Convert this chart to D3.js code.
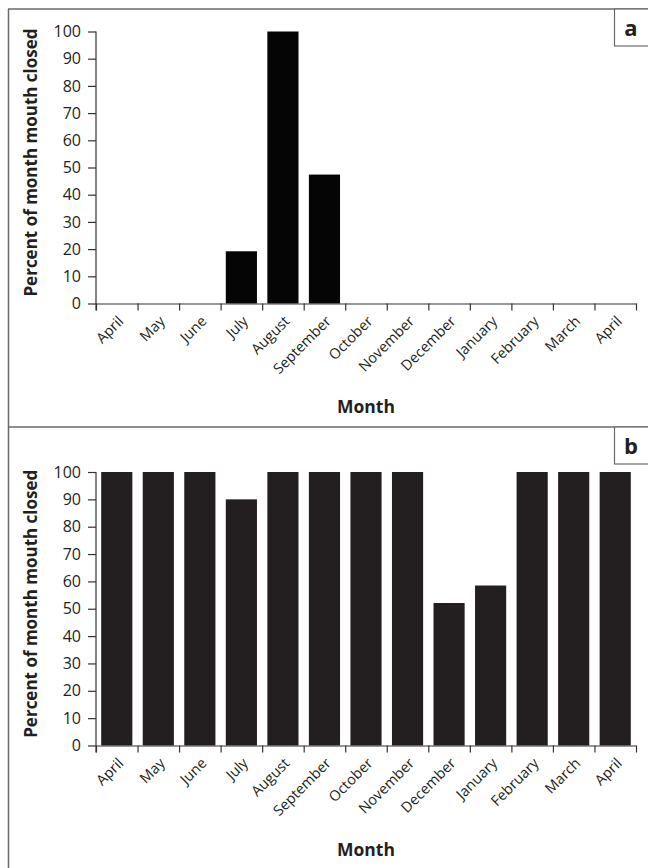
<!DOCTYPE html>
<html>
<head>
<meta charset="utf-8">
<script src="https://cdn.jsdelivr.net/npm/d3@7"></script>
<style>
  html, body { margin: 0; padding: 0; background: #fff; }
  svg { display: block; font-family: "Open Sans", sans-serif; }
</style>
</head>
<body>
<svg id="chart" width="648" height="868"></svg>
<script>
/** Month categories (13 months, April to April). */
const months = ["April", "May", "June", "July", "August", "September", "October",
  "November", "December", "January", "February", "March", "April"];
/** Panel a: percent of month mouth closed. */
const valuesA = [0, 0, 0, 19.2, 100, 47.4, 0, 0, 0, 0, 0, 0, 0];
/** Panel b: percent of month mouth closed. */
const valuesB = [100, 100, 100, 90, 100, 100, 100, 100, 52.1, 58.5, 100, 100, 100];
/** Y tick values. */
const yTicks = [0, 10, 20, 30, 40, 50, 60, 70, 80, 90, 100];

const svg = d3.select("#chart");
const frameColor = "#6a6a6a";
const textColor = "#231f20";

/** Outer frame: left edge, top edge, divider between panels. */
svg.append("line").attr("x1", 8.5).attr("x2", 8.5).attr("y1", 9).attr("y2", 868)
  .attr("stroke", frameColor).attr("stroke-width", 1.5);
svg.append("line").attr("x1", 8).attr("x2", 648).attr("y1", 9).attr("y2", 9)
  .attr("stroke", frameColor).attr("stroke-width", 1.5);
svg.append("line").attr("x1", 8).attr("x2", 648).attr("y1", 427).attr("y2", 427)
  .attr("stroke", frameColor).attr("stroke-width", 1.5);

function drawPanel(values, opts) {
  /** Band scale for bars (index keys because April repeats). */
  const x = d3.scaleBand()
    .domain(d3.range(months.length))
    .range([96, 636])
    .paddingInner(0.25)
    .paddingOuter(0.125);
  /** Linear scale for the tick marks at band boundaries. */
  const xb = d3.scaleLinear().domain([0, months.length]).range([96, 636]);
  const y = d3.scaleLinear().domain([0, 100]).range([opts.y0, opts.y100]);

  const g = svg.append("g");

  g.append("g")
    .selectAll("rect")
    .data(values)
    .join("rect")
    .attr("x", (d, i) => x(i))
    .attr("width", x.bandwidth())
    .attr("y", (d) => y(d))
    .attr("height", (d) => y(0) - y(d))
    .attr("fill", opts.fill);

  /** Y axis. */
  const ya = g.append("g")
    .attr("transform", `translate(96,0)`)
    .call(d3.axisLeft(y).tickValues(yTicks).tickSize(8).tickPadding(7).tickSizeOuter(0));
  ya.select(".domain").attr("stroke", "#333").attr("stroke-width", 1.2)
    .attr("d", `M0,${opts.y100}V${opts.y0 + 7}`);
  ya.selectAll(".tick line").attr("stroke", "#333").attr("stroke-width", 1.2);
  ya.selectAll(".tick text").attr("font-size", 16).attr("fill", textColor)
    .attr("font-family", "'Open Sans', sans-serif");

  /** X axis with ticks at band boundaries. */
  const xa = g.append("g")
    .attr("transform", `translate(0,${opts.y0})`)
    .call(d3.axisBottom(xb).tickValues(d3.range(months.length + 1))
      .tickFormat("").tickSize(7).tickSizeOuter(0));
  xa.select(".domain").attr("stroke", "#333").attr("stroke-width", 1.2);
  xa.selectAll(".tick line").attr("stroke", "#333").attr("stroke-width", 1.2);

  /** Rotated month labels. */
  g.append("g")
    .selectAll("text")
    .data(months)
    .join("text")
    .attr("transform", (d, i) =>
      `translate(${x(i) + x.bandwidth() / 2 + 4},${opts.y0 + 15}) rotate(-45)`)
    .attr("text-anchor", "end")
    .attr("dy", "0.35em")
    .attr("font-size", 14.5)
    .attr("fill", textColor)
    .text((d) => d);

  /** Y axis title. */
  g.append("text")
    .attr("transform", `translate(31,${(opts.y0 + opts.y100) / 2 - 5}) rotate(-90)`)
    .attr("text-anchor", "middle")
    .attr("dy", "0.35em")
    .attr("font-size", 17)
    .attr("font-weight", "bold")
    .attr("fill", textColor)
    .text("Percent of month mouth closed");

  /** X axis title. */
  g.append("text")
    .attr("x", 366)
    .attr("y", opts.titleY)
    .attr("text-anchor", "middle")
    .attr("dy", "0.35em")
    .attr("font-size", 17.5)
    .attr("font-weight", "bold")
    .attr("fill", textColor)
    .text("Month");

  /** Panel letter box. */
  g.append("rect")
    .attr("x", 614.5).attr("y", opts.boxY)
    .attr("width", 40).attr("height", 37)
    .attr("fill", "#fff").attr("stroke", frameColor).attr("stroke-width", 1.2);
  g.append("text")
    .attr("x", 631)
    .attr("y", opts.boxY + 19)
    .attr("text-anchor", "middle")
    .attr("dy", "0.35em")
    .attr("font-size", 22)
    .attr("font-weight", "bold")
    .attr("fill", textColor)
    .text(opts.letter);
}

drawPanel(valuesA, { y0: 303.5, y100: 31.5, fill: "#050505", titleY: 407, boxY: 9, letter: "a" });
drawPanel(valuesB, { y0: 745.5, y100: 472, fill: "#231f20", titleY: 850, boxY: 427, letter: "b" });
</script>
</body>
</html>
